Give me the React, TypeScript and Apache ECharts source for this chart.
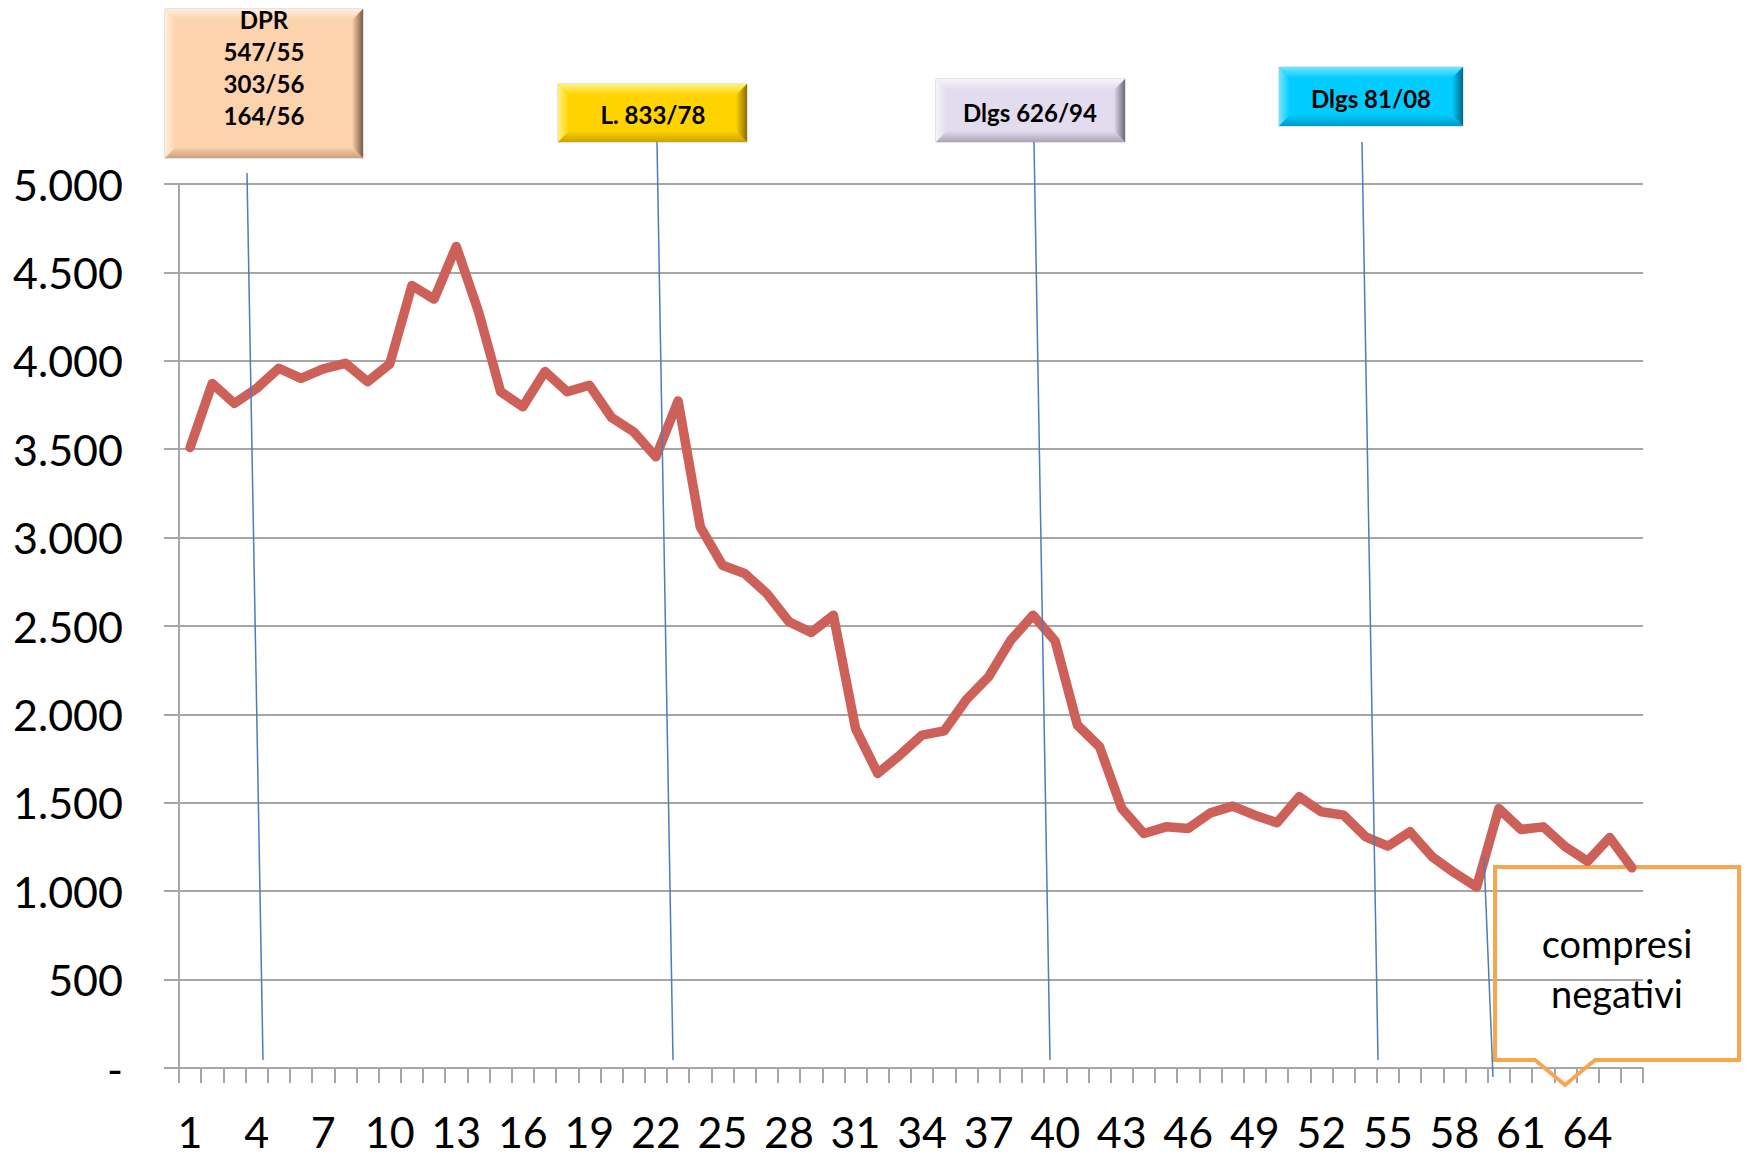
import React, { useEffect, useRef } from "react";
import * as echarts from "echarts";

const categories: string[] = Array.from({ length: 66 }, (_, i) => String(i + 1));

const values: number[] = [
  3510, 3872, 3759, 3844, 3958, 3901, 3954, 3986, 3882, 3982,
  4426, 4349, 4647, 4279, 3825, 3740, 3939, 3825, 3862, 3679,
  3598, 3457, 3773, 3061, 2844, 2797, 2684, 2524, 2463, 2561,
  1920, 1666, 1770, 1883, 1907, 2084, 2213, 2420, 2561, 2415,
  1940, 1817, 1468, 1326, 1364, 1355, 1443, 1481, 1430, 1387,
  1534, 1449, 1430, 1307, 1255, 1336, 1194, 1104, 1024, 1468,
  1349, 1364, 1251, 1170, 1304, 1132,
];

const yTicks: number[] = [0, 500, 1000, 1500, 2000, 2500, 3000, 3500, 4000, 4500, 5000];

const boxLabels: string[] = ["DPR\n547/55\n303/56\n164/56", "L. 833/78", "Dlgs 626/94", "Dlgs 81/08"];
const calloutLabel = "compresi\nnegativi";

const FONT = "Lato, 'Open Sans', sans-serif";
const GRID_COLOR = "#A6A6A6";

function fmtY(v: number): string {
  if (v === 0) return "-";
  const s = String(Math.round(v));
  return s.replace(/\B(?=(\d{3})+(?!\d))/g, ".");
}

function lg(c1: string, c2: string, x: number, y: number, x2: number, y2: number) {
  return new echarts.graphic.LinearGradient(x, y, x2, y2, [
    { offset: 0, color: c1 },
    { offset: 1, color: c2 },
  ]);
}

function bevelBox(
  x: number, y: number, w: number, h: number,
  base: string, light: string, dark: string, darkest: string,
  text: string, tx: number, ty: number, lineHeight: number
) {
  const d = 11;
  const children: any[] = [
    { type: "rect", shape: { x, y, width: w, height: h }, style: { fill: base, stroke: "#C8C8C8", lineWidth: 1 } },
    {
      type: "polygon",
      shape: { points: [[x, y], [x + w, y], [x + w - d, y + d], [x + d, y + d]] },
      style: { fill: lg(light, base, 0, 0, 0, 1) },
    },
    {
      type: "polygon",
      shape: { points: [[x, y], [x + d, y + d], [x + d, y + h - d], [x, y + h]] },
      style: { fill: lg(light, base, 0, 0, 1, 0) },
    },
    {
      type: "polygon",
      shape: { points: [[x, y + h], [x + d, y + h - d], [x + w - d, y + h - d], [x + w, y + h]] },
      style: { fill: lg(base, dark, 0, 0, 0, 1) },
    },
    {
      type: "polygon",
      shape: { points: [[x + w, y], [x + w, y + h], [x + w - d, y + h - d], [x + w - d, y + d]] },
      style: { fill: lg(base, darkest, 0, 0, 1, 0) },
    },
    {
      type: "text",
      x: tx,
      y: ty,
      style: {
        text,
        fill: "#000",
        fontFamily: FONT,
        fontWeight: "bold",
        fontSize: 24,
        lineHeight,
        align: "center",
        verticalAlign: "middle",
        textAlign: "center",
        textVerticalAlign: "middle",
      },
    },
  ];
  return { type: "group", z: 10, children };
}

function blueLine(x1: number, y1: number, x2: number, y2: number) {
  return {
    type: "line",
    z: 10,
    shape: { x1, y1, x2, y2 },
    style: { stroke: "#4A7EBB", lineWidth: 1.5 },
  };
}

export default function App() {
  const ref = useRef<HTMLDivElement>(null);

  useEffect(() => {
    if (!ref.current) return;
    const chart = echarts.init(ref.current, null, { renderer: "svg" });

    const option: any = {
      animation: false,
      backgroundColor: "#FFFFFF",
      grid: { left: 179, right: 107, top: 184, bottom: 87, containLabel: false },
      xAxis: {
        type: "category",
        data: categories,
        boundaryGap: true,
        axisLine: { show: true, lineStyle: { color: GRID_COLOR, width: 2 } },
        axisTick: { show: true, interval: 0, length: 15, lineStyle: { color: GRID_COLOR, width: 2 } },
        axisLabel: { interval: 2, fontSize: 43, lineHeight: 42, fontFamily: FONT, color: "#000", margin: 42 },
        splitLine: { show: false },
      },
      yAxis: {
        type: "value",
        min: yTicks[0],
        max: yTicks[yTicks.length - 1],
        interval: 500,
        axisLine: { show: true, lineStyle: { color: GRID_COLOR, width: 2 } },
        axisTick: { show: true, length: 15, lineStyle: { color: GRID_COLOR, width: 2 } },
        axisLabel: { fontSize: 43, fontFamily: FONT, color: "#000", margin: 56, formatter: (v: number) => fmtY(v) },
        splitLine: { show: true, lineStyle: { color: GRID_COLOR, width: 2 } },
      },
      series: [
        {
          type: "line",
          data: values,
          symbol: "none",
          z: 3,
          lineStyle: { color: "#CD6159", width: 9.5, join: "round", cap: "round" },
        },
      ],
      graphic: [
        {
          type: "polygon",
          z: 1,
          shape: {
            points: [
              [1495, 867], [1739, 867], [1739, 1060], [1595, 1060],
              [1565, 1085], [1535, 1060], [1495, 1060],
            ],
          },
          style: { fill: "none", stroke: "#F9A54F", lineWidth: 4 },
        },
        {
          type: "text",
          z: 10,
          x: 1617,
          y: 968,
          style: {
            text: calloutLabel,
            fill: "#000",
            fontFamily: FONT,
            fontSize: 38,
            lineHeight: 50,
            align: "center",
            verticalAlign: "middle",
            textAlign: "center",
            textVerticalAlign: "middle",
          },
        },
        blueLine(247, 173, 263, 1060),
        blueLine(657, 142, 673, 1060),
        blueLine(1034, 142, 1050, 1060),
        blueLine(1362, 142, 1378, 1060),
        blueLine(1484, 857, 1493, 1077),
        bevelBox(165, 9, 198, 149, "#FCD3AC", "#FFEEDD", "#C9A07C", "#7A5C44", boxLabels[0], 264, 67, 32),
        bevelBox(558, 84, 189, 58, "#FFD300", "#FFF27E", "#C9A200", "#8A6E00", boxLabels[1], 653, 114, 30),
        bevelBox(936, 79, 189, 63, "#E2DCEE", "#F7F4FB", "#A9A3B5", "#6E6878", boxLabels[2], 1030, 112, 30),
        bevelBox(1279, 67, 184, 59, "#00CCFF", "#70E6FF", "#0099C4", "#006A8A", boxLabels[3], 1371, 98, 30),
      ],
    };

    chart.setOption(option);
    return () => chart.dispose();
  }, []);

  return (
    <div
      ref={ref}
      style={{ position: "absolute", left: 0, top: 0, width: 1750, height: 1155 }}
    />
  );
}
